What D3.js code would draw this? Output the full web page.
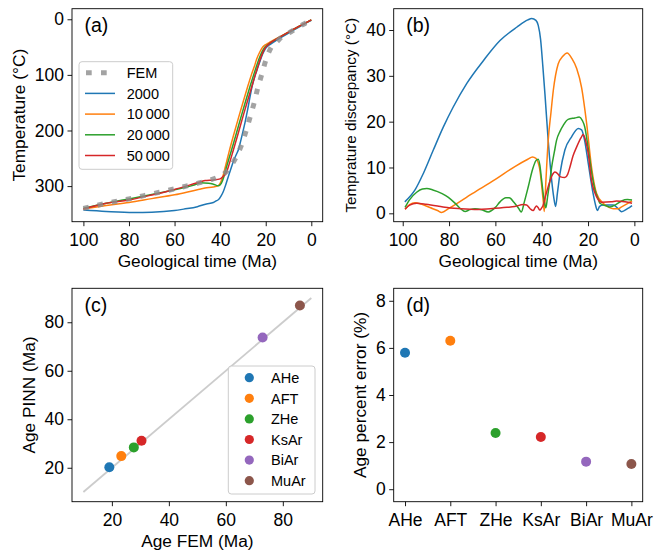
<!DOCTYPE html>
<html>
<head>
<meta charset="utf-8">
<script src="https://cdn.jsdelivr.net/npm/d3@7"></script>
<style>
  body { margin: 0; background: #fff; }
  svg { display: block; font-family: "Liberation Sans", Arial, sans-serif; }
</style>
</head>
<body>
<svg id="fig"></svg>
<script>
// ---- (a) temperature paths, [time Ma, temperature °C]
const tempFem = [[100,340],[90,331],[80,323],[70,314],[60,305],[50,295],[44.4,289],[41,284],[39,280],[36,268],[33.5,252],[31,230],[29,206],[27,178],[25,149],[23.7,127],[21.8,100],[19.9,73],[18.5,58],[17.4,49],[15,40],[13,32],[10,25],[6.4,16],[3,8],[0,2]];
const temp2000 = [[100,343],[90,345.5],[78,347.4],[70,347],[60,344],[56,341.4],[50,337],[46,332],[43,329.4],[41.5,326],[40.8,324.6],[39.5,317],[38.6,309.7],[37.5,297],[36.4,282.7],[35.2,268],[34.2,255.8],[33,244],[32,234.8],[31,219],[30,202],[29,184],[28,164],[27,142],[26,121],[24.5,99],[23.4,86],[22.4,74],[21.3,62],[20.3,54],[19,48],[18,45],[15,37],[10,25],[5,13],[0,2]];
const temp10000 = [[100,341],[90,335],[80,329.5],[70,322.5],[60,315.6],[50,306.5],[46.6,303.6],[43,301.5],[41,299.5],[40,295],[39,285],[38,270],[36,237],[33.8,204],[31.8,175],[29.8,147],[27.9,121],[26.3,100],[25,85],[24,72],[22.5,58],[21.3,50],[19.8,45],[18.5,42],[15,34],[10,23],[5,12],[0,1]];
const temp20000 = [[100,340],[90,331],[80,323],[70,315],[60,306.6],[50,296],[48.8,294],[45,294.7],[43,296.5],[40.8,299.5],[39.5,295],[38.5,285],[37.5,270],[35,235],[32.8,204],[30.8,175],[28.8,147],[26.9,121],[25.3,100],[24.1,85],[23,72],[21.8,60],[20.7,52],[19.2,46],[18.1,43],[15,35],[10,23],[5,12],[0,1]];
const temp50000 = [[100,341],[90,331],[80,325],[70,316],[60,306],[50,294],[46.6,290],[43,289],[40,287],[38.5,282],[37.2,275],[36,260],[34.2,235],[32,204],[30,175],[28,147],[26.1,121],[24.6,100],[23.5,86],[22.5,73],[21.3,60],[20.3,52],[19,46],[18.1,43],[15,35],[10,23],[5,12],[0,1]];

// ---- (b) discrepancy to FEM, [time Ma, °C]
const diff2000 = [[99.1,2.5],[94.7,5.1],[91.1,8.7],[86.8,13.8],[82.5,18.8],[78.2,23.2],[72.4,28.3],[65.2,33.3],[58,37.7],[50.8,40.6],[46,42.2],[44.3,42.5],[42.5,42.1],[41.5,41],[40.5,38],[39.5,32],[38.6,26],[37.2,15.9],[35.7,7.2],[34.8,3.5],[34,1.5],[33.2,4.5],[32.1,8.7],[30,13.8],[27.1,16.7],[24.2,18.5],[22.8,18.2],[21.5,16],[19.9,10.9],[17.8,4.3],[16.6,1.5],[16,0.6],[15,1.5],[13.5,1.8],[9.1,1.8],[7,1],[5.5,0.35],[3,1],[1,1.7]];
const diff10000 = [[99,0.9],[97,1.9],[94.7,2.3],[92,2],[88,1.2],[85,0.6],[83.2,0.2],[80,1.1],[70,4.3],[60,7.4],[51.6,10.2],[46,11.8],[44,12.3],[42.5,12],[41.5,11],[40.8,9.5],[40,6],[39.3,2.5],[38.9,0.4],[38.2,7],[37.2,15.9],[36,22],[35,26.8],[32.9,32.6],[31,34.2],[29,35],[27,33.8],[24.9,31.6],[22.8,27.5],[20.6,19.6],[18.5,10.1],[16.3,4.3],[13.5,2.2],[11,1.3],[9.1,1.0],[7,1.0],[5.5,1.4],[3,2.1],[1,2.7]];
const diff20000 = [[99,1.3],[97,3],[94,4.6],[91.5,5.3],[89.6,5.4],[87,5.1],[83,4.3],[80.3,3.5],[77,2],[75,1],[73.1,0.4],[71,0.8],[68.8,1.0],[66,0.8],[63.1,0.3],[60,1.3],[58,2.5],[55.5,3.4],[54,3.4],[52,2.4],[50,1.1],[48.8,0.3],[47.5,2.5],[45.8,5.8],[44,9.5],[42.5,11.5],[41.5,11.8],[40.8,10.5],[40.1,7.5],[39,3],[38.2,1.2],[37.5,3.5],[36.5,7],[35.7,10.1],[34.5,13.5],[33.6,15.9],[32,18],[30.7,19.2],[28.6,20.5],[25.7,20.8],[23.8,21],[22.5,20.3],[21.4,18.8],[20.3,15.5],[19.2,11.6],[18,7.5],[17,5.1],[15.5,3],[14.9,2.2],[12,1.6],[10.6,1.4],[8,1.9],[5.5,2.7],[3,3.0],[1,2.9]];
const diff50000 = [[99,0.9],[97,1.8],[94,2.2],[90,2.0],[85,1.6],[81.8,1.3],[75,1.0],[67.4,0.85],[62.3,1.0],[55,1.3],[51.6,1.5],[48,1.9],[46.5,1.8],[45,1.0],[43.7,0.6],[42.8,1.3],[42.2,1.6],[41.5,1.2],[40.8,0.7],[40,1.2],[39.5,1.6],[38.5,3.5],[37.2,5.8],[35.5,8.3],[34.3,9.0],[33,8.6],[32.1,8.0],[30,7.8],[28.8,8.5],[27.8,10.1],[26.5,12.5],[24.9,14.5],[23,16.5],[22.1,17.2],[21,15.8],[19.9,13],[18.5,7.2],[17.3,4.8],[16.3,3.6],[14.1,2.4],[10,2.5],[7.7,2.7],[4,2.5],[1,2.2]];

const runLabels = ["2000", "10\u2009000", "20\u2009000", "50\u2009000"];
const runColors = ["#1f77b4", "#ff7f0e", "#2ca02c", "#d62728"];

// ---- (c), (d) thermochronometer ages
const methods = ["AHe", "AFT", "ZHe", "KsAr", "BiAr", "MuAr"];
const ageFem = [19.1, 23.3, 27.7, 30.4, 72.9, 86.0];
const agePinn = [20.2, 24.8, 28.4, 31.1, 73.7, 86.9];
const agePctError = [5.79, 6.30, 2.39, 2.22, 1.17, 1.07];
const methodColors = ["#1f77b4", "#ff7f0e", "#2ca02c", "#d62728", "#9467bd", "#8c564b"];

const timeTicks = [100, 80, 60, 40, 20, 0];

const svg = d3.select("#fig").attr("width", 654).attr("height", 551);
svg.append("rect").attr("width", 654).attr("height", 551).attr("fill", "#fff");

const boxA = { left: 72, right: 322.7, top: 8.7, bottom: 221.7 };
const boxB = { left: 393.7, right: 642.7, top: 8.7, bottom: 221.7 };
const boxC = { left: 72, right: 322.7, top: 288.3, bottom: 501.7 };
const boxD = { left: 393.7, right: 642.7, top: 288.3, bottom: 501.7 };

const tickFont = 17.5;
const labelFont = 17.3;

// axes ticks + frame + labels for one panel
function drawAxes(box, x, y, xTicks, yTicks, xLabel, yLabel, yLabelX, yLabelSize, tag) {
  const g = svg.append("g");
  const xAxis = g.append("g")
    .attr("transform", `translate(0,${box.bottom})`)
    .call(d3.axisBottom(x).tickValues(xTicks).tickSize(4.5).tickPadding(7).tickFormat(d => d));
  const yAxis = g.append("g")
    .attr("transform", `translate(${box.left},0)`)
    .call(d3.axisLeft(y).tickValues(yTicks).tickSize(4.5).tickPadding(3.5).tickFormat(d => d));
  [xAxis, yAxis].forEach(a => {
    a.select(".domain").remove();
    a.selectAll("line").attr("stroke", "#000").attr("stroke-width", 0.9);
    a.selectAll("text").attr("fill", "#000").attr("font-size", tickFont)
      .attr("font-family", "Liberation Sans, Arial, sans-serif");
  });
  g.append("rect")
    .attr("x", box.left).attr("y", box.top)
    .attr("width", box.right - box.left).attr("height", box.bottom - box.top)
    .attr("fill", "none").attr("stroke", "#000").attr("stroke-width", 0.9);
  g.append("text")
    .attr("x", (box.left + box.right) / 2).attr("y", box.bottom + 45)
    .attr("text-anchor", "middle").attr("font-size", labelFont)
    .text(xLabel);
  g.append("text")
    .attr("transform", `translate(${yLabelX},${(box.top + box.bottom) / 2}) rotate(-90)`)
    .attr("text-anchor", "middle").attr("font-size", yLabelSize)
    .text(yLabel);
  g.append("text")
    .attr("x", box.left + 12.5).attr("y", box.top + 23.5)
    .attr("font-size", 19.5)
    .text(tag);
}

// ---------------- (a)
const xA = d3.scaleLinear([105, -5], [boxA.left, boxA.right]);
const yA = d3.scaleLinear([-19, 364], [boxA.top, boxA.bottom]);
const lineA = d3.line().x(d => xA(d[0])).y(d => yA(d[1])).curve(d3.curveMonotoneX);

const gA = svg.append("g");
[temp2000, temp10000, temp20000, temp50000].forEach((run, i) => {
  gA.append("path")
    .attr("d", lineA(run))
    .attr("fill", "none")
    .attr("stroke", runColors[i])
    .attr("stroke-width", 1.5);
});
gA.append("path")
  .attr("d", lineA(tempFem))
  .attr("fill", "none")
  .attr("stroke", "#8c8c8c")
  .attr("stroke-opacity", 0.8)
  .attr("stroke-width", 5)
  .attr("stroke-dasharray", "5.5 9");

drawAxes(boxA, xA, yA, timeTicks, [0, 100, 200, 300],
  "Geological time (Ma)", "Temperature (°C)", 25, labelFont, "(a)");

// legend (a)
const legA = svg.append("g");
legA.append("rect")
  .attr("x", 79).attr("y", 61.7).attr("width", 93.7).attr("height", 107.6)
  .attr("rx", 3).attr("fill", "#fff").attr("fill-opacity", 0.8)
  .attr("stroke", "#cccccc").attr("stroke-width", 1);
const legItems = [{ label: "FEM", fem: true }].concat(runLabels.map((l, i) => ({ label: l, color: runColors[i] })));
legItems.forEach((item, i) => {
  const cy = 72.7 + i * 20.7;
  const ln = legA.append("line")
    .attr("x1", 85).attr("x2", 115).attr("y1", cy).attr("y2", cy);
  if (item.fem) {
    ln.attr("x1", 86).attr("stroke", "#8c8c8c").attr("stroke-opacity", 0.8)
      .attr("stroke-width", 5).attr("stroke-dasharray", "5.7 9.3");
  } else {
    ln.attr("stroke", item.color).attr("stroke-width", 1.5);
  }
  legA.append("text")
    .attr("x", 126.7).attr("y", cy + 5.2)
    .attr("font-size", 14.5)
    .text(item.label);
});

// ---------------- (b)
const xB = d3.scaleLinear([103.9, -3.6], [boxB.left, boxB.right]);
const yB = d3.scaleLinear([-1.83, 44.65], [boxB.bottom, boxB.top]);
const lineB = d3.line().x(d => xB(d[0])).y(d => yB(d[1])).curve(d3.curveMonotoneX);
const gB = svg.append("g");
[diff2000, diff10000, diff20000, diff50000].forEach((run, i) => {
  gB.append("path")
    .attr("d", lineB(run))
    .attr("fill", "none")
    .attr("stroke", runColors[i])
    .attr("stroke-width", 1.5);
});
drawAxes(boxB, xB, yB, timeTicks, [0, 10, 20, 30, 40],
  "Geological time (Ma)", "Temprature discrepancy (°C)", 356, 15.3, "(b)");

// ---------------- (c)
const xC = d3.scaleLinear([6, 94], [boxC.left, boxC.right]);
const yC = d3.scaleLinear([6, 94], [boxC.bottom, boxC.top]);
svg.append("line")
  .attr("x1", xC(10)).attr("y1", yC(10)).attr("x2", xC(90)).attr("y2", yC(90))
  .attr("stroke", "#cccccc").attr("stroke-width", 1.8);
svg.append("g").selectAll("circle")
  .data(methods)
  .join("circle")
  .attr("cx", (d, i) => xC(ageFem[i]))
  .attr("cy", (d, i) => yC(agePinn[i]))
  .attr("r", 5)
  .attr("fill", (d, i) => methodColors[i]);
drawAxes(boxC, xC, yC, [20, 40, 60, 80], [20, 40, 60, 80],
  "Age FEM (Ma)", "Age PINN (Ma)", 35, labelFont, "(c)");

// legend (c)
const legC = svg.append("g");
legC.append("rect")
  .attr("x", 228.3).attr("y", 366).attr("width", 86.7).attr("height", 128)
  .attr("rx", 3).attr("fill", "#fff").attr("fill-opacity", 0.8)
  .attr("stroke", "#cccccc").attr("stroke-width", 1);
methods.forEach((m, i) => {
  const cy = 377.7 + i * 20.6;
  legC.append("circle").attr("cx", 249.3).attr("cy", cy).attr("r", 4.6).attr("fill", methodColors[i]);
  legC.append("text").attr("x", 271).attr("y", cy + 5.2).attr("font-size", 14.5).text(m);
});

// ---------------- (d)
const xD = d3.scalePoint(methods, [boxD.left, boxD.right]).padding(0.25);
const yD = d3.scaleLinear([-0.53, 8.53], [boxD.bottom, boxD.top]);
svg.append("g").selectAll("circle")
  .data(methods)
  .join("circle")
  .attr("cx", d => xD(d))
  .attr("cy", (d, i) => yD(agePctError[i]))
  .attr("r", 5)
  .attr("fill", (d, i) => methodColors[i]);
drawAxes(boxD, xD, yD, methods, [0, 2, 4, 6, 8],
  "", "Age percent error (%)", 366, labelFont, "(d)");
</script>
</body>
</html>
